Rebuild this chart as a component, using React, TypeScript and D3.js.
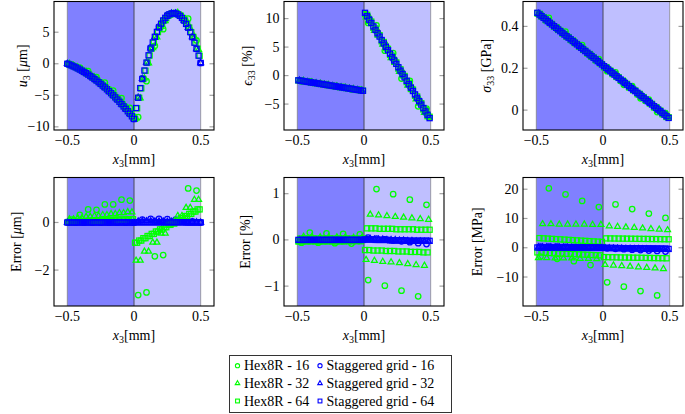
import React from "react";
import * as d3 from "d3";

// ---------------- categories / grids ----------------
const meshSizes = [16, 32, 64];
const xTicks = [-0.5, 0, 0.5];
const xTickLabels = ["\u22120.5", "0", "0.5"];

// ---------------- reference solution (top row) ----------------
// u3 [μm] at element centres (Hex8R positions)
const u3Centres16 = [-0.27, -0.92, -1.71, -2.66, -3.75, -5.0, -6.39, -7.92, -5.4, 0.17, 4.26, 6.85, 7.96, 7.58, 5.72, 2.36];
const u3Centres32 = [-0.13, -0.42, -0.74, -1.1, -1.5, -1.94, -2.41, -2.92, -3.47, -4.05, -4.67, -5.33, -6.02, -6.76, -7.53, -8.33,
  -7.03, -3.87, -1.08, 1.33, 3.37, 5.04, 6.34, 7.27, 7.82, 8.01, 7.82, 7.26, 6.32, 5.02, 3.34, 1.29];
const u3Centres64 = [-0.06, -0.2, -0.34, -0.49, -0.66, -0.83, -1.01, -1.2, -1.4, -1.61, -1.82, -2.05, -2.29, -2.53, -2.79, -3.05,
  -3.33, -3.61, -3.9, -4.2, -4.51, -4.83, -5.16, -5.5, -5.85, -6.2, -6.57, -6.95, -7.33, -7.72, -8.13, -8.54,
  -7.88, -6.21, -4.63, -3.14, -1.75, -0.45, 0.76, 1.88, 2.9, 3.83, 4.66, 5.4, 6.05, 6.61, 7.07, 7.44,
  7.72, 7.91, 8.0, 7.99, 7.9, 7.71, 7.43, 7.06, 6.59, 6.03, 5.38, 4.63, 3.79, 2.86, 1.84, 0.72];
// u3 [μm] at nodes (staggered grid positions)
const u3Nodes16 = [0, -0.57, -1.3, -2.17, -3.19, -4.36, -5.67, -7.14, -8.75, -2.43, 2.4, 5.74, 7.59, 7.96, 6.84, 4.23, 0.13];
const u3Nodes32 = [0, -0.27, -0.57, -0.92, -1.3, -1.71, -2.17, -2.66, -3.19, -3.75, -4.36, -5.0, -5.67, -6.39, -7.14, -7.92, -8.75,
  -5.4, -2.43, 0.17, 2.4, 4.26, 5.74, 6.85, 7.59, 7.96, 7.96, 7.58, 6.84, 5.72, 4.23, 2.36, 0.13];
const u3Nodes64 = [0, -0.13, -0.27, -0.42, -0.57, -0.74, -0.92, -1.1, -1.3, -1.5, -1.71, -1.94, -2.17, -2.41, -2.66, -2.92,
  -3.19, -3.47, -3.75, -4.05, -4.36, -4.67, -5.0, -5.33, -5.67, -6.02, -6.39, -6.76, -7.14, -7.53, -7.92, -8.33, -8.75,
  -7.03, -5.4, -3.87, -2.43, -1.08, 0.17, 1.33, 2.4, 3.37, 4.26, 5.04, 5.74, 6.34, 6.85, 7.27, 7.59,
  7.82, 7.96, 8.01, 7.96, 7.82, 7.58, 7.26, 6.84, 6.32, 5.72, 5.02, 4.23, 3.34, 2.36, 1.29, 0.13];

// ε33 [%] at element centres
const e33Centres16 = [-0.92, -1.16, -1.39, -1.63, -1.87, -2.11, -2.34, -2.58, 10.11, 7.73, 5.35, 2.97, 0.58, -1.8, -4.18, -6.56];
const e33Centres32 = [-0.86, -0.98, -1.1, -1.22, -1.33, -1.45, -1.57, -1.69, -1.81, -1.93, -2.05, -2.17, -2.28, -2.4, -2.52, -2.64,
  10.7, 9.51, 8.32, 7.13, 5.94, 4.75, 3.56, 2.37, 1.18, -0.01, -1.2, -2.39, -3.58, -4.77, -5.96, -7.15];
const e33Centres64 = [-0.83, -0.89, -0.95, -1.01, -1.07, -1.13, -1.19, -1.25, -1.3, -1.36, -1.42, -1.48, -1.54, -1.6, -1.66, -1.72,
  -1.78, -1.84, -1.9, -1.96, -2.02, -2.08, -2.14, -2.2, -2.25, -2.31, -2.37, -2.43, -2.49, -2.55, -2.61, -2.67,
  11.0, 10.41, 9.81, 9.22, 8.62, 8.03, 7.43, 6.84, 6.24, 5.65, 5.05, 4.45, 3.86, 3.26, 2.67, 2.07,
  1.48, 0.88, 0.29, -0.31, -0.9, -1.5, -2.09, -2.69, -3.28, -3.88, -4.47, -5.07, -5.67, -6.26, -6.86, -7.45];

// σ33 [GPa] at element centres
const s33Centres16 = [0.453, 0.421, 0.389, 0.357, 0.326, 0.294, 0.262, 0.23, 0.198, 0.166, 0.134, 0.102, 0.071, 0.039, 0.007, -0.025];
const s33Centres32 = [0.461, 0.445, 0.429, 0.413, 0.397, 0.381, 0.365, 0.349, 0.334, 0.318, 0.302, 0.286, 0.27, 0.254, 0.238, 0.222,
  0.206, 0.19, 0.174, 0.158, 0.142, 0.126, 0.11, 0.094, 0.078, 0.063, 0.047, 0.031, 0.015, -0.001, -0.017, -0.033];
const s33Centres64 = [0.465, 0.457, 0.449, 0.441, 0.433, 0.425, 0.417, 0.409, 0.401, 0.393, 0.385, 0.377, 0.369, 0.361, 0.353, 0.346,
  0.338, 0.33, 0.322, 0.314, 0.306, 0.298, 0.29, 0.282, 0.274, 0.266, 0.258, 0.25, 0.242, 0.234, 0.226, 0.218,
  0.21, 0.202, 0.194, 0.186, 0.178, 0.17, 0.162, 0.154, 0.146, 0.138, 0.13, 0.122, 0.114, 0.106, 0.098, 0.091,
  0.083, 0.075, 0.067, 0.059, 0.051, 0.043, 0.035, 0.027, 0.019, 0.011, 0.003, -0.005, -0.013, -0.021, -0.029, -0.037];

// ---------------- errors (bottom row) ----------------
// u3 error [μm]
const u3ErrHex16 = [0.12, 0.32, 0.55, 0.53, 0.76, 0.76, 0.96, 0.92, -3.05, -2.94, -1.42, -1.37, 0.05, 0.02, 1.43, 1.34];
const u3ErrHex32 = [0.14, 0.14, 0.19, 0.19, 0.24, 0.24, 0.28, 0.28, 0.32, 0.32, 0.36, 0.36, 0.4, 0.4, 0.44, 0.43,
  -1.6, -1.6, -1.22, -1.22, -0.84, -0.84, -0.46, -0.46, -0.08, -0.08, 0.28, 0.28, 0.62, 0.62, 0.96, 0.96];
const u3ErrHex64 = [0.02, 0.02, 0.03, 0.03, 0.04, 0.04, 0.05, 0.05, 0.06, 0.06, 0.07, 0.07, 0.07, 0.07, 0.08, 0.08,
  0.09, 0.09, 0.1, 0.1, 0.1, 0.1, 0.11, 0.11, 0.12, 0.12, 0.12, 0.12, 0.13, 0.13, 0.14, 0.14,
  -0.85, -0.85, -0.76, -0.76, -0.66, -0.66, -0.57, -0.57, -0.48, -0.48, -0.38, -0.38, -0.29, -0.29, -0.2, -0.2,
  -0.1, -0.1, -0.01, -0.01, 0.08, 0.08, 0.18, 0.18, 0.27, 0.27, 0.36, 0.36, 0.46, 0.46, 0.55, 0.55];
const u3ErrStag16 = [0, 0, 0, 0, 0, 0, 0, 0, 0, 0.12, 0.15, 0.15, 0.14, 0.12, 0.09, 0.05, 0];
const u3ErrStag32 = [0, 0, 0, 0, 0, 0, 0, 0, 0, 0, 0, 0, 0, 0, 0, 0, 0,
  0.05, 0.06, 0.06, 0.06, 0.05, 0.05, 0.05, 0.04, 0.04, 0.03, 0.03, 0.02, 0.02, 0.01, 0.01, 0];
const u3ErrStag64 = [0, 0, 0, 0, 0, 0, 0, 0, 0, 0, 0, 0, 0, 0, 0, 0, 0, 0, 0, 0, 0, 0, 0, 0, 0, 0, 0, 0, 0, 0, 0, 0, 0,
  0.01, 0.01, 0.01, 0.01, 0.01, 0.01, 0.01, 0.01, 0.01, 0.01, 0.01, 0.01, 0.01, 0.01, 0.01, 0.01,
  0.01, 0.01, 0.01, 0.01, 0.01, 0.01, 0.01, 0.01, 0, 0, 0, 0, 0, 0, 0, 0];

// ε33 error [%]
const e33ErrHex16 = [-0.06, 0.16, -0.06, 0.14, -0.07, 0.13, -0.08, 0.12, -0.87, 1.1, -0.99, 0.99, -1.1, 0.87, -1.22, 0.76];
const e33ErrHex32 = [-0.05, 0.07, -0.05, 0.07, -0.05, 0.06, -0.05, 0.06, -0.05, 0.06, -0.05, 0.06, -0.04, 0.05, -0.04, 0.05,
  -0.43, 0.55, -0.45, 0.535, -0.47, 0.52, -0.48, 0.5, -0.5, 0.485, -0.52, 0.47, -0.54, 0.455, -0.555, 0.44];
const e33ErrHex64 = [-0.03, 0.03, -0.03, 0.03, -0.03, 0.03, -0.03, 0.03, -0.03, 0.03, -0.03, 0.03, -0.03, 0.03, -0.03, 0.03,
  -0.03, 0.03, -0.03, 0.03, -0.03, 0.03, -0.03, 0.03, -0.03, 0.03, -0.03, 0.03, -0.03, 0.03, -0.03, 0.03,
  -0.22, 0.25, -0.22, 0.25, -0.23, 0.25, -0.23, 0.24, -0.23, 0.24, -0.24, 0.24, -0.24, 0.24, -0.24, 0.23,
  -0.25, 0.23, -0.25, 0.23, -0.25, 0.23, -0.26, 0.23, -0.26, 0.22, -0.26, 0.22, -0.27, 0.22, -0.27, 0.22];
const e33ErrStag16 = [0, 0, 0, 0, 0, 0, 0, 0, 0.05, 0.03, 0.01, -0.01, -0.03, -0.05, -0.07, -0.09];
const e33ErrStag32 = [0, 0, 0, 0, 0, 0, 0, 0, 0, 0, 0, 0, 0, 0, 0, 0,
  0.02, 0.02, 0.01, 0.01, 0.01, 0, 0, 0, -0.01, -0.01, -0.02, -0.02, -0.03, -0.03, -0.04, -0.04];
const e33ErrStag64 = [0, 0, 0, 0, 0, 0, 0, 0, 0, 0, 0, 0, 0, 0, 0, 0, 0, 0, 0, 0, 0, 0, 0, 0, 0, 0, 0, 0, 0, 0, 0, 0,
  0.01, 0.01, 0.01, 0.01, 0.01, 0, 0, 0, 0, 0, 0, 0, -0.01, -0.01, -0.01, -0.01,
  -0.01, -0.01, -0.01, -0.01, -0.02, -0.02, -0.02, -0.02, -0.02, -0.02, -0.02, -0.02, -0.02, -0.02, -0.02, -0.02];

// σ33 error [MPa]
const s33ErrHex16 = [-3.0, 20.3, -3.8, 18.2, -4.6, 16.0, -5.9, 13.9, -11.8, 14.8, -13.3, 13.2, -14.8, 11.7, -16.3, 10.2];
const s33ErrHex32 = [-3.5, 8.1, -3.5, 8.1, -3.6, 8.0, -3.6, 8.0, -3.6, 8.0, -3.7, 8.0, -3.7, 7.9, -3.8, 7.9,
  -5.8, 7.4, -6.0, 7.2, -6.2, 7.0, -6.4, 6.85, -6.6, 6.65, -6.8, 6.45, -7.0, 6.25, -7.2, 6.05];
const s33ErrHex64 = [-1.6, 3.3, -1.67, 3.21, -1.73, 3.13, -1.8, 3.04, -1.87, 2.95, -1.93, 2.87, -2.0, 2.78, -2.07, 2.69,
  -2.13, 2.61, -2.2, 2.52, -2.27, 2.43, -2.33, 2.35, -2.4, 2.26, -2.47, 2.17, -2.53, 2.09, -2.6, 2.0,
  -3.2, 3.2, -3.23, 3.18, -3.25, 3.16, -3.28, 3.14, -3.31, 3.12, -3.33, 3.1, -3.36, 3.08, -3.39, 3.06,
  -3.41, 3.04, -3.44, 3.02, -3.47, 3.0, -3.49, 2.98, -3.52, 2.96, -3.55, 2.94, -3.57, 2.92, -3.6, 2.9];
const s33ErrStag16 = [0.4, 0.4, 0.35, 0.3, 0.25, 0.2, 0.15, 0.1, -0.2, -0.35, -0.5, -0.65, -0.8, -0.95, -1.1, -1.3];
const s33ErrStag32 = [0.2, 0.19, 0.18, 0.17, 0.16, 0.15, 0.14, 0.13, 0.12, 0.11, 0.1, 0.09, 0.08, 0.07, 0.06, 0.05,
  -0.1, -0.14, -0.18, -0.22, -0.26, -0.3, -0.34, -0.38, -0.42, -0.46, -0.5, -0.54, -0.58, -0.62, -0.66, -0.7];
const s33ErrStag64 = [0.1, 0.1, 0.1, 0.1, 0.1, 0.1, 0.1, 0.1, 0.1, 0.1, 0.1, 0.1, 0.1, 0.1, 0.1, 0.1,
  0.1, 0.1, 0.1, 0.1, 0.1, 0.1, 0.1, 0.1, 0.1, 0.1, 0.1, 0.1, 0.1, 0.1, 0.1, 0.1,
  -0.05, -0.06, -0.07, -0.08, -0.09, -0.1, -0.11, -0.12, -0.13, -0.14, -0.15, -0.16, -0.17, -0.18, -0.19, -0.2,
  -0.21, -0.22, -0.23, -0.24, -0.25, -0.26, -0.27, -0.28, -0.29, -0.3, -0.31, -0.32, -0.33, -0.34, -0.36, -0.4];

// ---------------- series styling ----------------
const methodNames = ["Hex8R", "Staggered grid"];
const methodColors = ["#00ff00", "#0000ff"];
const meshMarkers = ["circle", "triangle", "square"];

// ---------------- helpers ----------------
const centres = (n: number) => d3.range(n).map((i) => -0.5 + (i + 0.5) / n);
const nodes = (n: number) => d3.range(n + 1).map((i) => -0.5 + i / n);
const addErr = (base: number[], err: number[], k = 1) => base.map((v, i) => v + err[i] * k);

type Series = { xs: number[]; ys: number[]; marker: string; color: string };

function buildSeries(hex: number[][], stag: number[][], stagAtNodes: boolean): Series[] {
  const out: Series[] = [];
  meshSizes.forEach((n, m) => {
    out.push({ xs: centres(n), ys: hex[m], marker: meshMarkers[m], color: methodColors[0] });
    out.push({ xs: stagAtNodes ? nodes(n) : centres(n), ys: stag[m], marker: meshMarkers[m], color: methodColors[1] });
  });
  return out;
}

const FONT = "Liberation Serif";
const FS = 14;

type Panel = {
  x0: number; x1: number; y0: number; y1: number;
  yDomain: [number, number]; yTicks: number[]; yFmt: (v: number) => string;
  series: Series[]; ylabel: React.ReactNode; ylabelX: number;
};

const fmtInt = (v: number) => (v < 0 ? "\u2212" + Math.abs(v) : String(v));
const fmtDec = (v: number) => (v === 0 ? "0" : v < 0 ? "\u2212" + Math.abs(v).toFixed(1) : v.toFixed(1));

const colX = [[54, 214], [284, 444], [523, 683]];
const rowY = [[1.5, 130], [177.5, 306]];

const Sub = ({ t }: { t: string }) => (
  <>
    <tspan dy={3} fontSize={10}>{t}</tspan>
    <tspan dy={-3}> </tspan>
  </>
);

const panels: Panel[] = [
  {
    x0: colX[0][0], x1: colX[0][1], y0: rowY[0][0], y1: rowY[0][1],
    yDomain: [-10.5, 9.87], yTicks: [-10, -5, 0, 5], yFmt: fmtInt, ylabelX: 26.5,
    series: buildSeries(
      [addErr(u3Centres16, u3ErrHex16), addErr(u3Centres32, u3ErrHex32), addErr(u3Centres64, u3ErrHex64)],
      [addErr(u3Nodes16, u3ErrStag16), addErr(u3Nodes32, u3ErrStag32), addErr(u3Nodes64, u3ErrStag64)], true),
    ylabel: (<><tspan fontStyle="italic">u</tspan><Sub t="3" />[<tspan fontStyle="italic">μ</tspan>m]</>),
  },
  {
    x0: colX[1][0], x1: colX[1][1], y0: rowY[0][0], y1: rowY[0][1],
    yDomain: [-9.55, 13.0], yTicks: [-5, 0, 5, 10], yFmt: fmtInt, ylabelX: 251.5,
    series: buildSeries(
      [addErr(e33Centres16, e33ErrHex16), addErr(e33Centres32, e33ErrHex32), addErr(e33Centres64, e33ErrHex64)],
      [addErr(e33Centres16, e33ErrStag16), addErr(e33Centres32, e33ErrStag32), addErr(e33Centres64, e33ErrStag64)], false),
    ylabel: (<><tspan fontStyle="italic">ϵ</tspan><Sub t="33" />[%]</>),
  },
  {
    x0: colX[2][0], x1: colX[2][1], y0: rowY[0][0], y1: rowY[0][1],
    yDomain: [-0.095, 0.519], yTicks: [0, 0.2, 0.4], yFmt: fmtDec, ylabelX: 490.5,
    series: buildSeries(
      [addErr(s33Centres16, s33ErrHex16, 0.001), addErr(s33Centres32, s33ErrHex32, 0.001), addErr(s33Centres64, s33ErrHex64, 0.001)],
      [addErr(s33Centres16, s33ErrStag16, 0.001), addErr(s33Centres32, s33ErrStag32, 0.001), addErr(s33Centres64, s33ErrStag64, 0.001)], false),
    ylabel: (<><tspan fontStyle="italic">σ</tspan><Sub t="33" />[GPa]</>),
  },
  {
    x0: colX[0][0], x1: colX[0][1], y0: rowY[1][0], y1: rowY[1][1],
    yDomain: [-3.51, 1.89], yTicks: [-2, 0], yFmt: fmtInt, ylabelX: 20.5,
    series: buildSeries([u3ErrHex16, u3ErrHex32, u3ErrHex64], [u3ErrStag16, u3ErrStag32, u3ErrStag64], true),
    ylabel: (<>Error [<tspan fontStyle="italic">μ</tspan>m]</>),
  },
  {
    x0: colX[1][0], x1: colX[1][1], y0: rowY[1][0], y1: rowY[1][1],
    yDomain: [-1.43, 1.35], yTicks: [-1, 0, 1], yFmt: fmtInt, ylabelX: 250,
    series: buildSeries([e33ErrHex16, e33ErrHex32, e33ErrHex64], [e33ErrStag16, e33ErrStag32, e33ErrStag64], false),
    ylabel: (<>Error [%]</>),
  },
  {
    x0: colX[2][0], x1: colX[2][1], y0: rowY[1][0], y1: rowY[1][1],
    yDomain: [-19.9, 24.0], yTicks: [-10, 0, 10, 20], yFmt: fmtInt, ylabelX: 481.5,
    series: buildSeries([s33ErrHex16, s33ErrHex32, s33ErrHex64], [s33ErrStag16, s33ErrStag32, s33ErrStag64], false),
    ylabel: (<>Error [MPa]</>),
  },
];

const triPath = d3.symbol(d3.symbolTriangle, 15)() as string;
const triPathSmall = d3.symbol(d3.symbolTriangle, 9)() as string;

function Marker({ kind, cx, cy, color, small }: { kind: string; cx: number; cy: number; color: string; small?: boolean }) {
  const r = small ? 2.1 : 2.75;
  const sw = small ? 1.1 : 1.25;
  if (kind === "circle") return <circle cx={cx} cy={cy} r={r} fill="none" stroke={color} strokeWidth={sw} />;
  if (kind === "square")
    return <rect x={cx - r + 0.2} y={cy - r + 0.2} width={2 * r - 0.4} height={2 * r - 0.4} fill="none" stroke={color} strokeWidth={sw} />;
  return <path d={small ? triPathSmall : triPath} transform={`translate(${cx},${cy})`} fill="none" stroke={color} strokeWidth={sw} />;
}

function PanelView({ p }: { p: Panel }) {
  const x = d3.scaleLinear().domain([-0.6, 0.6]).range([p.x0, p.x1]);
  const y = d3.scaleLinear().domain(p.yDomain).range([p.y1, p.y0]);
  const h = p.y1 - p.y0;
  const yc = (p.y0 + p.y1) / 2;
  return (
    <g>
      <rect x={x(-0.5)} y={p.y0} width={x(0) - x(-0.5)} height={h} fill="#8080ff" />
      <rect x={x(0)} y={p.y0} width={x(0.5) - x(0)} height={h} fill="#bfbfff" />
      <line x1={x(-0.5)} x2={x(-0.5)} y1={p.y0} y2={p.y1} stroke="#8a8aa0" strokeWidth={1} />
      <line x1={x(0.5)} x2={x(0.5)} y1={p.y0} y2={p.y1} stroke="#9a9aa8" strokeWidth={1} />
      <line x1={x(0)} x2={x(0)} y1={p.y0} y2={p.y1} stroke="#4a4a5a" strokeWidth={1} />
      {p.yTicks.map((t) => (
        <g key={"t" + t}>
          <line x1={p.x0} x2={p.x0 + 4.5} y1={y(t)} y2={y(t)} stroke="#a0a0a0" strokeWidth={1.2} />
          <line x1={p.x1 - 4.5} x2={p.x1} y1={y(t)} y2={y(t)} stroke="#a0a0a0" strokeWidth={1.2} />
        </g>
      ))}
      {p.series.map((s, si) => (
        <g key={si}>
          {s.xs.map((xv, i) => (
            <Marker key={i} kind={s.marker} cx={x(xv)} cy={y(s.ys[i])} color={s.color} />
          ))}
        </g>
      ))}
      <rect x={p.x0} y={p.y0} width={p.x1 - p.x0} height={h} fill="none" stroke="#000" strokeWidth={1.1} />
      {p.yTicks.map((t) => (
        <text key={"l" + t} x={p.x0 - 4.5} y={y(t) + 4.5} textAnchor="end" fontSize={FS} fontFamily={FONT}>
          {p.yFmt(t)}
        </text>
      ))}
      {xTicks.map((t, i) => (
        <text key={"x" + t} x={x(t)} y={p.y1 + 14.5} textAnchor="middle" fontSize={FS} fontFamily={FONT}>
          {xTickLabels[i]}
        </text>
      ))}
      <text x={x(0)} y={p.y1 + 34} textAnchor="middle" fontSize={FS} fontFamily={FONT}>
        <tspan fontStyle="italic">x</tspan>
        <tspan dy={3} fontSize={10}>3</tspan>
        <tspan dy={-3}>[mm]</tspan>
      </text>
      <text transform={`translate(${p.ylabelX},${yc}) rotate(-90)`} textAnchor="middle" fontSize={FS} fontFamily={FONT}>
        {p.ylabel}
      </text>
    </g>
  );
}

function Legend() {
  const rows = [365.7, 383.3, 401];
  const cols = [{ mx: 237.5, tx: 244 }, { mx: 320, tx: 326.5 }];
  return (
    <g>
      <rect x={229.5} y={355.5} width={222} height={57} fill="#fff" stroke="#333" strokeWidth={1} />
      {meshSizes.map((n, m) =>
        methodNames.map((name, k) => (
          <g key={name + n}>
            <Marker kind={meshMarkers[m]} cx={cols[k].mx} cy={rows[m]} color={methodColors[k]} small />
            <text x={cols[k].tx} y={rows[m] + 4.5} fontSize={FS} fontFamily={FONT}>
              {`${name} - ${n}`}
            </text>
          </g>
        ))
      )}
    </g>
  );
}

export default function App() {
  return (
    <svg width={685} height={414} style={{ position: "absolute", left: 0, top: 0, background: "#fff", fontFamily: FONT }}>
      {panels.map((p, i) => (
        <PanelView key={i} p={p} />
      ))}
      <Legend />
    </svg>
  );
}
